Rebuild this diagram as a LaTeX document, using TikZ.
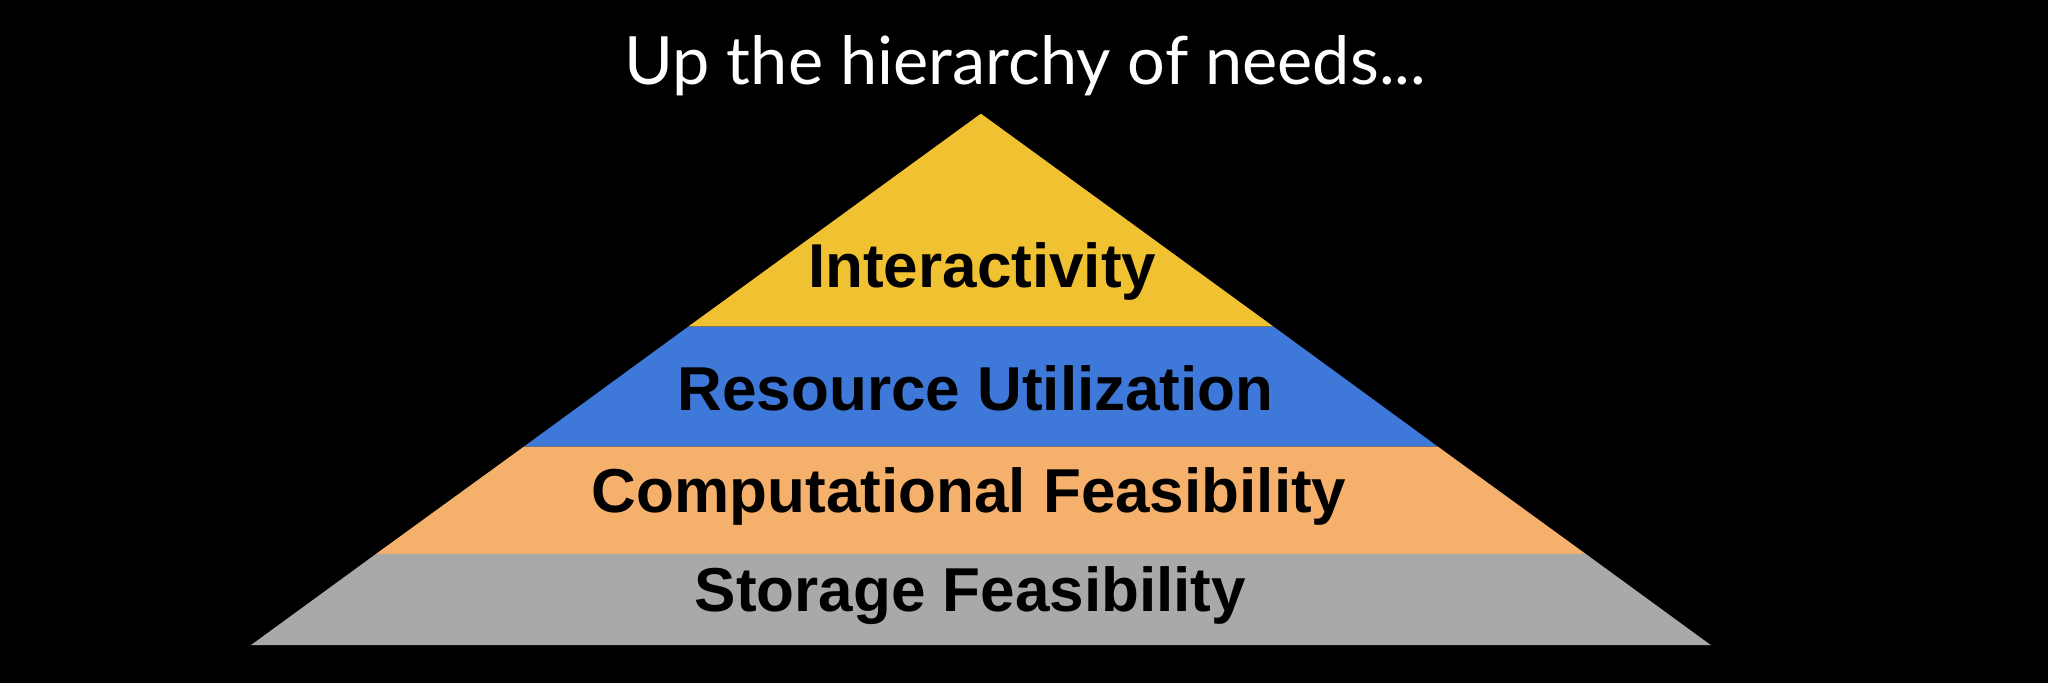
\documentclass[tikz,border=0pt]{standalone}
\usepackage{fontspec}
\setmainfont{Liberation Sans}
\newfontfamily\titlefont{Lato}
\definecolor{cyel}{HTML}{F0C232}
\definecolor{cblu}{HTML}{3E78D8}
\definecolor{cora}{HTML}{F5B06C}
\definecolor{cgry}{HTML}{A9A9A9}
\begin{document}
\begin{tikzpicture}[x=0.01cm,y=-0.01cm,
  lbl/.style={font=\bfseries\fontsize{13.5}{16}\selectfont,text=black,inner sep=0pt}]
\fill[black] (0,0) rectangle (1568,523);
\useasboundingbox (0,0) rectangle (1568,523);
\fill[cyel] (751,87) -- (975,250) -- (527,250) -- cycle;
\fill[cblu] (527,250) -- (975,250) -- (1101,342) -- (401,342) -- cycle;
\fill[cora] (401,342) -- (1101,342) -- (1214,424) -- (288,424) -- cycle;
\fill[cgry] (288,424) -- (1214,424) -- (1310,494) -- (192,494) -- cycle;
\node[font=\titlefont\fontsize{14.5}{17}\selectfont,text=white] (title) at (785,50) {Up the hierarchy of needs...};
\node[lbl] (l1) at (752,208) {Interactivity};
\node[lbl] (l2) at (747,297) {Resource Utilization};
\node[lbl] (l3) at (742,380) {Computational Feasibility};
\node[lbl] (l4) at (743,456) {Storage Feasibility};
\end{tikzpicture}
\end{document}
